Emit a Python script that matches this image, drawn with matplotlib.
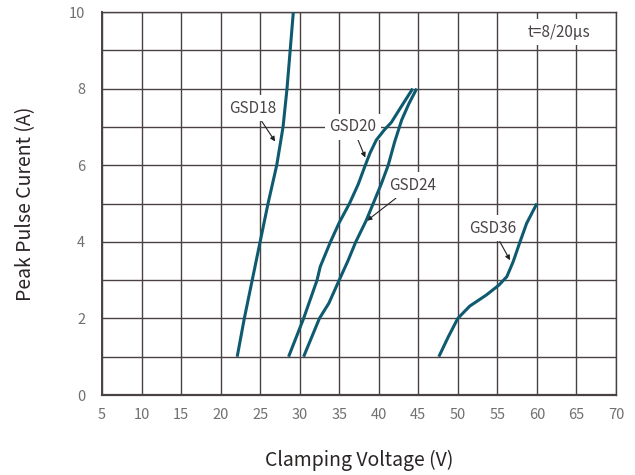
import matplotlib
matplotlib.use("Agg")
import matplotlib.pyplot as plt

plt.rcParams['font.family'] = ['Noto Sans CJK SC', 'DejaVu Sans']

# curve points (V, A)
gsd18_v = [22.1, 23.0, 24.0, 25.0, 26.0, 27.1, 27.9, 28.4, 28.8, 29.2]
gsd18_i = [1.0, 2.0, 3.0, 4.0, 5.0, 6.0, 7.0, 8.0, 9.0, 10.0]

gsd20_v = [28.6, 30.5, 32.2, 32.6, 33.9, 35.0, 36.3, 37.4, 38.3, 38.9, 39.7, 40.7, 41.6, 43.0, 44.3]
gsd20_i = [1.0, 2.0, 3.0, 3.35, 4.0, 4.5, 5.0, 5.5, 6.0, 6.32, 6.66, 6.92, 7.12, 7.58, 8.0]

gsd24_v = [30.5, 32.5, 33.7, 35.0, 36.1, 37.1, 38.4, 39.3, 40.3, 41.2, 42.0, 42.9, 43.8, 44.8]
gsd24_i = [1.0, 2.0, 2.4, 3.0, 3.5, 4.0, 4.55, 5.0, 5.5, 6.0, 6.6, 7.18, 7.6, 8.0]

gsd36_v = [47.6, 48.8, 50.0, 51.5, 53.6, 55.2, 56.2, 57.0, 57.8, 58.7, 60.0]
gsd36_i = [1.0, 1.52, 2.0, 2.32, 2.61, 2.87, 3.09, 3.48, 3.96, 4.48, 5.0]

x_ticks = list(range(5, 71, 5))
y_ticks = [0, 2, 4, 6, 8, 10]

line_col = '#0e5a70'
grid_col = '#4a4242'
tick_col = '#707070'

fig = plt.figure(figsize=(6.35, 4.75), dpi=100)
ax = fig.add_axes([0.1606, 0.1684, 0.8094, 0.8063])

ax.set_xlim(5, 70)
ax.set_ylim(0, 10)
ax.set_xticks(x_ticks)
ax.set_yticks(y_ticks)
ax.set_yticks(range(0, 11), minor=True)
ax.grid(True, which='both', color=grid_col, lw=1.0)
ax.set_axisbelow(True)
ax.tick_params(which='both', length=0, labelcolor=tick_col, labelsize=10.5)
ax.tick_params(axis='x', pad=9)
ax.tick_params(axis='y', pad=12)
for lbl in ax.get_xticklabels() + ax.get_yticklabels():
    lbl.set_fontweight('light')
for s in ax.spines.values():
    s.set_color(grid_col)
    s.set_linewidth(1.0)
ax.spines['bottom'].set_linewidth(1.6)
ax.spines['left'].set_linewidth(1.4)

# curves sit above the white label boxes
for v, i in [(gsd18_v, gsd18_i), (gsd20_v, gsd20_i), (gsd24_v, gsd24_i), (gsd36_v, gsd36_i)]:
    ax.plot(v, i, color=line_col, lw=2.2, solid_capstyle='butt', solid_joinstyle='round', zorder=5)

box = dict(boxstyle='square,pad=0.3', fc='white', ec='none')
arrow = dict(arrowstyle='-|>', color='#222222', lw=0.8, mutation_scale=7, shrinkA=0, shrinkB=0)
tkw = dict(fontsize=11, color='#4a4444', ha='center', va='center', bbox=box, zorder=3)

ax.annotate('GSD18', xy=(26.9, 6.62), xytext=(24.1, 7.49), arrowprops=arrow, **tkw)
ax.annotate('GSD20', xy=(38.3, 6.2), xytext=(36.7, 7.0), arrowprops=arrow, **tkw)
ax.annotate('GSD24', xy=(38.5, 4.55), xytext=(44.3, 5.48), arrowprops=arrow, **tkw)
ax.annotate('GSD36', xy=(56.6, 3.52), xytext=(54.4, 4.35), arrowprops=arrow, **tkw)
ax.text(62.8, 9.47, 't=8/20μs', **tkw)

ax.set_xlabel('Clamping Voltage (V)', fontsize=14, color='#2a2424', va='center', fontweight='medium')
ax.set_ylabel('Peak Pulse Curent (A)', fontsize=14, color='#2a2424', va='center')
ax.xaxis.set_label_coords(0.5, -0.17)
ax.yaxis.set_label_coords(-0.148, 0.5)

fig.savefig('out.png', dpi=100)
